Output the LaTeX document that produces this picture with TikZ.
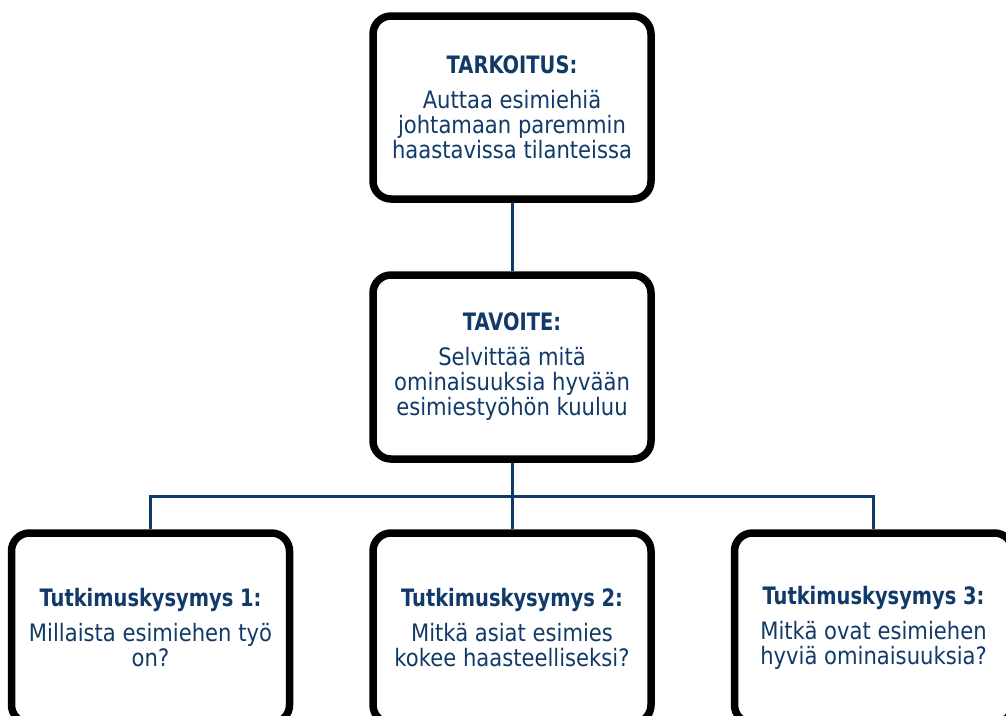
\documentclass[tikz,border=0pt]{standalone}
\usepackage{fontspec}
\newfontfamily\bodyfont{DejaVu Sans}[FakeStretch=0.88]
\newfontfamily\titlefont{DejaVu Sans}[FakeStretch=0.81]
\definecolor{navy}{HTML}{113A68}
\tikzset{
  box/.style={draw=black, line width=7.5pt, rounded corners=18pt, fill=white,
    minimum width=278pt, inner sep=0pt, align=center, text=navy,
    font=\bodyfont\fontsize{24}{25}\selectfont},
  link/.style={draw=navy, line width=3pt}
}
\newcommand{\boxtitle}[1]{{\titlefont\bfseries #1}\\[10pt]}
\begin{document}
\begin{tikzpicture}[x=1pt,y=-1pt]
\useasboundingbox (0,0) rectangle (1006,715);
\clip (0,0) rectangle (1006,715);
\fill[white] (0,0) rectangle (1006,715);

\node[box, minimum height=183pt] (top) at (512,107.5)
  {\boxtitle{TARKOITUS:}Auttaa esimiehiä\\johtamaan paremmin\\haastavissa tilanteissa};
\node[box, minimum height=184pt] (mid) at (512,367)
  {\boxtitle{TAVOITE:}Selvittää mitä\\ominaisuuksia hyvään\\esimiestyöhön kuuluu};
\node[box, minimum height=190pt] (q1) at (150.5,628)
  {\boxtitle{Tutkimuskysymys 1:}Millaista esimiehen työ\\on?};
\node[box, minimum height=190pt] (q2) at (512,628)
  {\boxtitle{Tutkimuskysymys 2:}Mitkä asiat esimies\\kokee haasteelliseksi?};
\node[box, minimum height=190pt] (q3) at (873.5,628)
  {\boxtitle{Tutkimuskysymys 3:}Mitkä ovat esimiehen\\hyviä ominaisuuksia?};

\coordinate (j) at (512,496);

\draw[link] (top.south) -- (mid.north);
\draw[link] (mid.south) -- (j);
\draw[link] (j) -| (q1.north);
\draw[link] (j) -| (q3.north);
\draw[link] (j) -- (q2.north);
\end{tikzpicture}
\end{document}
